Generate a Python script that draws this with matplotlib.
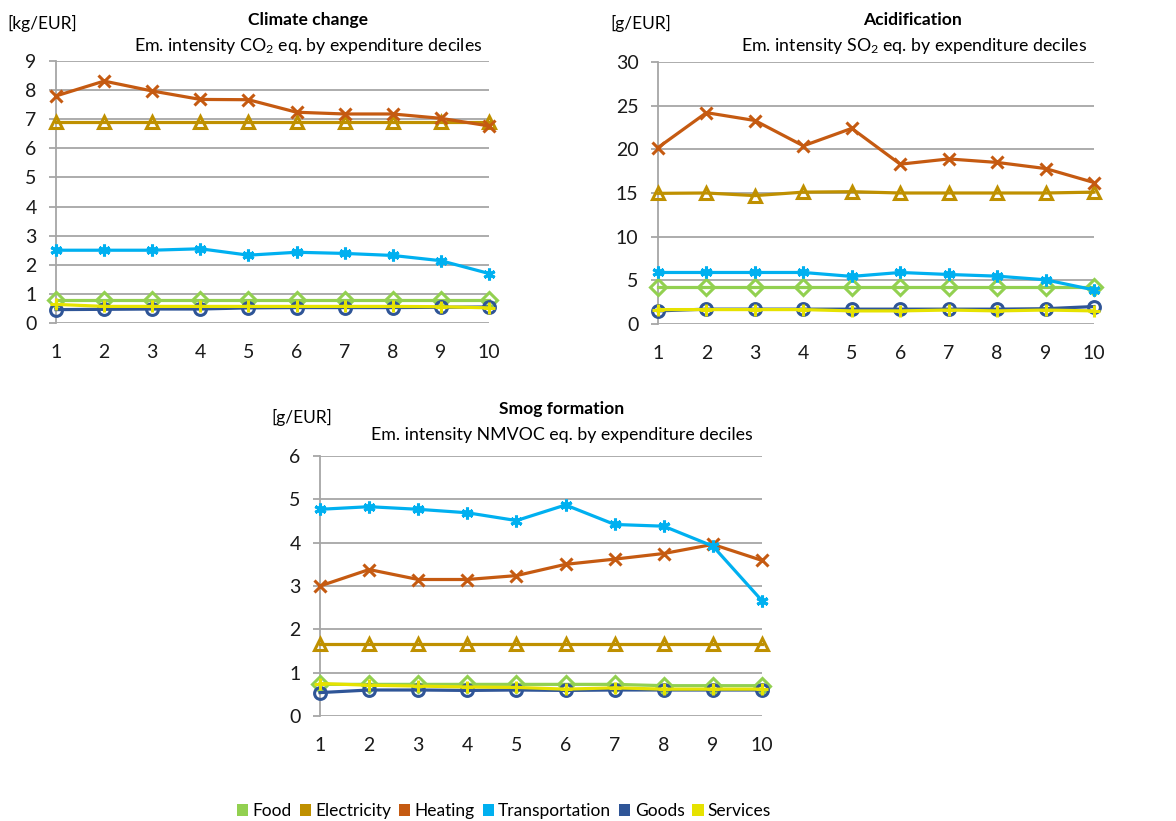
import numpy as np
import matplotlib
matplotlib.use('Agg')
import matplotlib.pyplot as plt
from matplotlib.patches import Patch

plt.rcParams['font.family'] = ['Lato', 'DejaVu Sans']
plt.rcParams['mathtext.fontset'] = 'custom'
plt.rcParams['mathtext.rm'] = 'Lato'
plt.rcParams['mathtext.it'] = 'Lato'

W, H = 1176, 821

deciles = list(range(1, 11))
categories = ['Food', 'Electricity', 'Heating', 'Transportation', 'Goods', 'Services']
colors = ['#92D050', '#BF9000', '#C55A11', '#00B0F0', '#2F5597', '#E6E200']
markers = ['D', '^', 'x', (6, 2, 0), 'o', '+']

# Climate change [kg/EUR]
co2_food = [0.78, 0.78, 0.78, 0.78, 0.78, 0.78, 0.78, 0.78, 0.78, 0.78]
co2_elec = [6.9, 6.9, 6.9, 6.9, 6.9, 6.9, 6.9, 6.9, 6.9, 6.9]
co2_heat = [7.8, 8.31, 7.97, 7.68, 7.67, 7.24, 7.18, 7.18, 7.03, 6.77]
co2_trans = [2.5, 2.5, 2.5, 2.55, 2.33, 2.43, 2.39, 2.32, 2.14, 1.7]
co2_goods = [0.46, 0.47, 0.48, 0.48, 0.52, 0.53, 0.53, 0.53, 0.54, 0.55]
co2_serv = [0.64, 0.57, 0.57, 0.57, 0.57, 0.57, 0.57, 0.57, 0.56, 0.52]

# Acidification [g/EUR]
so2_food = [4.2, 4.2, 4.2, 4.2, 4.2, 4.2, 4.2, 4.2, 4.2, 4.2]
so2_elec = [14.96, 15.0, 14.7, 15.1, 15.15, 15.0, 15.0, 15.0, 15.0, 15.1]
so2_heat = [20.2, 24.2, 23.3, 20.4, 22.4, 18.3, 18.9, 18.5, 17.8, 16.2]
so2_trans = [5.9, 5.9, 5.9, 5.9, 5.45, 5.9, 5.67, 5.48, 5.06, 3.9]
so2_goods = [1.5, 1.7, 1.7, 1.7, 1.7, 1.7, 1.7, 1.7, 1.75, 2.0]
so2_serv = [1.65, 1.65, 1.65, 1.65, 1.5, 1.5, 1.6, 1.5, 1.6, 1.5]

# Smog formation [g/EUR]
voc_food = [0.73, 0.73, 0.73, 0.73, 0.73, 0.73, 0.73, 0.7, 0.7, 0.7]
voc_elec = [1.66, 1.66, 1.66, 1.66, 1.66, 1.66, 1.66, 1.66, 1.66, 1.66]
voc_heat = [3.0, 3.38, 3.15, 3.15, 3.24, 3.5, 3.62, 3.75, 3.96, 3.59]
voc_trans = [4.77, 4.83, 4.77, 4.69, 4.51, 4.87, 4.42, 4.38, 3.92, 2.66]
voc_goods = [0.54, 0.6, 0.6, 0.59, 0.6, 0.59, 0.6, 0.6, 0.6, 0.6]
voc_serv = [0.75, 0.71, 0.69, 0.67, 0.66, 0.62, 0.65, 0.62, 0.62, 0.62]

panels = [
    dict(series=[co2_food, co2_elec, co2_heat, co2_trans, co2_goods, co2_serv],
         box=(56, 61, 489, 323), ymax=9, ystep=1,
         title='Climate change', title_xy=(308, 20),
         sub='Em. intensity CO$_2$ eq. by expenditure deciles', sub_xy=(308, 46),
         unit='[kg/EUR]', unit_xy=(42, 23)),
    dict(series=[so2_food, so2_elec, so2_heat, so2_trans, so2_goods, so2_serv],
         box=(658, 62, 1094, 324), ymax=30, ystep=5,
         title='Acidification', title_xy=(913, 20),
         sub='Em. intensity SO$_2$ eq. by expenditure deciles', sub_xy=(914, 46),
         unit='[g/EUR]', unit_xy=(641, 23)),
    dict(series=[voc_food, voc_elec, voc_heat, voc_trans, voc_goods, voc_serv],
         box=(320, 456, 762, 716), ymax=6, ystep=1,
         title='Smog formation', title_xy=(562, 409),
         sub='Em. intensity NMVOC eq. by expenditure deciles', sub_xy=(562, 435),
         unit='[g/EUR]', unit_xy=(302, 417)),
]

grid_col = '#A6A6A6'

fig = plt.figure(figsize=(W / 100, H / 100), dpi=100)

for p in panels:
    x0, y0, x1, y1 = p['box']
    ax = fig.add_axes([x0 / W, 1 - y1 / H, (x1 - x0) / W, (y1 - y0) / H])
    for vals, c, m in zip(p['series'], colors, markers):
        ax.plot(deciles, vals, color=c, lw=2.3, marker=m, ms=8.5,
                mfc='none' if m in ('D', '^', 'o') else c, mec=c, mew=2.2,
                clip_on=False, zorder=3)
    ax.set_xlim(1, 10)
    ax.set_ylim(0, p['ymax'])
    ax.set_yticks(np.arange(0, p['ymax'] + 0.1, p['ystep']))
    ax.set_xticks(deciles)
    ax.grid(axis='y', color=grid_col, lw=1.3)
    ax.set_axisbelow(True)
    for s in ['top', 'right', 'bottom']:
        ax.spines[s].set_visible(False)
    ax.spines['left'].set_color(grid_col)
    ax.spines['left'].set_linewidth(1.3)
    ax.tick_params(axis='y', length=5, width=1.3, color=grid_col, pad=9,
                   labelsize=14, labelcolor='#1a1a1a')
    ax.tick_params(axis='x', length=0, pad=15, labelsize=14, labelcolor='#1a1a1a')

    fig.text(p['title_xy'][0] / W, 1 - p['title_xy'][1] / H, p['title'],
             ha='center', va='center', fontsize=12.6, fontweight='bold')
    fig.text(p['sub_xy'][0] / W, 1 - p['sub_xy'][1] / H, p['sub'],
             ha='center', va='center', fontsize=12.8)
    fig.text(p['unit_xy'][0] / W, 1 - p['unit_xy'][1] / H, p['unit'],
             ha='center', va='center', fontsize=12.5)

handles = [Patch(facecolor=c, edgecolor='none', label=n) for n, c in zip(categories, colors)]
fig.legend(handles=handles, loc='center', bbox_to_anchor=(504 / W, 1 - 811 / H),
           ncol=6, frameon=False, fontsize=12.5, handlelength=0.65, handleheight=0.65,
           handletextpad=0.25, columnspacing=0.45)

fig.savefig('out.png', dpi=100)
